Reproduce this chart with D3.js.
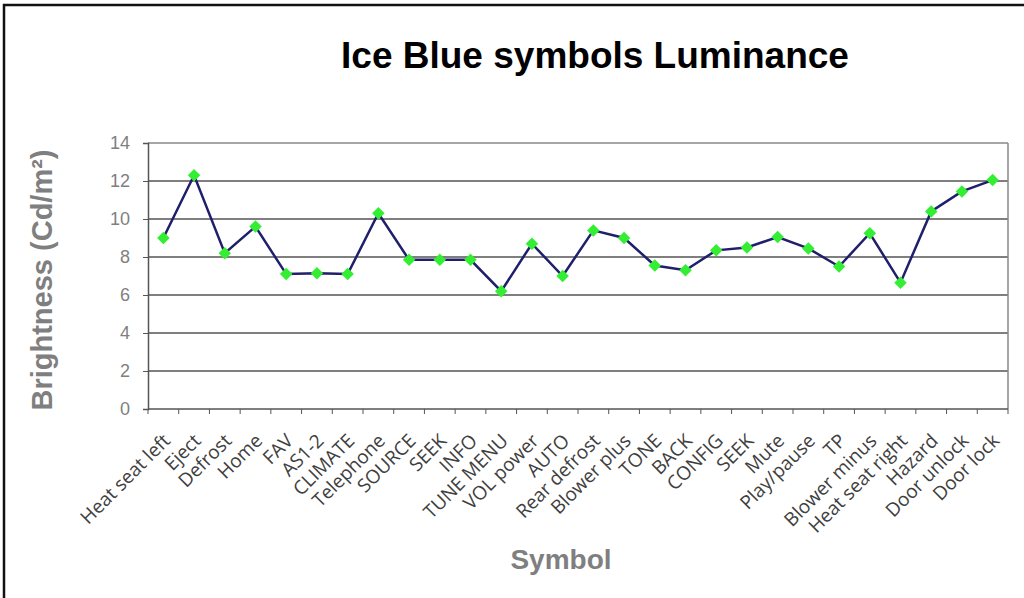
<!DOCTYPE html>
<html><head><meta charset="utf-8">
<script src="https://cdn.jsdelivr.net/npm/d3@7"></script>
<style>html,body{margin:0;padding:0;background:#fff;}svg{display:block;}</style>
</head><body>
<svg id="chart" width="1024" height="598"></svg>
<script>
const categories = ["Heat seat left","Eject","Defrost","Home","FAV","AS1-2","CLIMATE","Telephone","SOURCE","SEEK","INFO","TUNE MENU","VOL power","AUTO","Rear defrost","Blower plus","TONE","BACK","CONFIG","SEEK","Mute","Play/pause","TP","Blower minus","Heat seat right","Hazard","Door unlock","Door lock"];
const values = [9.0,12.3,8.2,9.6,7.1,7.15,7.1,10.3,7.85,7.85,7.85,6.2,8.7,7.0,9.4,9.0,7.55,7.3,8.35,8.5,9.05,8.45,7.5,9.25,6.65,10.4,11.45,12.05];
const yTicks = [0,2,4,6,8,10,12,14];
const title = "Ice Blue symbols Luminance";
const yTitle = "Brightness (Cd/m²)";
const xTitle = "Symbol";

const svg = d3.select("#chart");
const L = 148, R = 1008, T = 143, B = 409;
const idx = categories.map((d,i)=>i);
const x = d3.scaleBand().domain(idx).range([L,R]);
const y = d3.scaleLinear().domain([0,14]).range([B,T]);
const cx = i => x(i) + x.bandwidth()/2;

// outer frame
svg.append("rect").attr("x",4).attr("y",5).attr("width",1030).attr("height",610)
  .attr("fill","none").attr("stroke","#111").attr("stroke-width",2.5);

// title
svg.append("text").attr("x",595).attr("y",68).attr("text-anchor","middle")
  .attr("font-family","Liberation Sans, Arial, sans-serif").attr("font-weight","bold")
  .attr("font-size",37).attr("fill","#000").text(title);

// gridlines
svg.append("g").selectAll("line").data(yTicks.filter(d=>d>0&&d<14)).join("line")
  .attr("x1",L).attr("x2",R).attr("y1",d=>y(d)).attr("y2",d=>y(d))
  .attr("stroke","#000").attr("stroke-width",1.2);
// plot border top & right
svg.append("line").attr("x1",L).attr("x2",R).attr("y1",T).attr("y2",T).attr("stroke","#888").attr("stroke-width",1.5);
svg.append("line").attr("x1",R).attr("x2",R).attr("y1",T).attr("y2",B).attr("stroke","#888").attr("stroke-width",1.5);

// y axis
const yAxis = svg.append("g").attr("transform",`translate(${L},0)`)
  .call(d3.axisLeft(y).tickValues(yTicks).tickSize(5).tickPadding(13).tickFormat(d3.format("d")));
yAxis.select(".domain").attr("stroke","#555").attr("stroke-width",1.5);
yAxis.selectAll(".tick line").attr("stroke","#555");
yAxis.selectAll("text").attr("font-family","Liberation Sans, Arial, sans-serif").attr("font-size",18).attr("fill","#7f7f7f");

// x axis with ticks at boundaries
const xAxisG = svg.append("g").attr("transform",`translate(0,${B})`);
xAxisG.append("line").attr("x1",L).attr("x2",R).attr("y1",0).attr("y2",0).attr("stroke","#555").attr("stroke-width",1.5);
const bounds = d3.range(categories.length+1).map(i=> i<categories.length ? x(i) : x(categories.length-1)+x.bandwidth());
xAxisG.selectAll("line.t").data(bounds).join("line").attr("class","t")
  .attr("x1",d=>d).attr("x2",d=>d).attr("y1",0).attr("y2",5).attr("stroke","#555");
xAxisG.selectAll("text").data(categories).join("text")
  .attr("transform",(d,i)=>`translate(${cx(i)+8},33) rotate(-45)`)
  .attr("text-anchor","end").attr("font-family","Open Sans, Liberation Sans, sans-serif")
  .attr("font-size",19).attr("fill","#404040").text(d=>d);

// axis titles
svg.append("text").attr("transform",`translate(52,280) rotate(-90)`).attr("text-anchor","middle")
  .attr("font-family","Liberation Sans, Arial, sans-serif").attr("font-weight","bold")
  .attr("font-size",29).attr("fill","#7f7f7f").text(yTitle);
svg.append("text").attr("x",561).attr("y",569).attr("text-anchor","middle")
  .attr("font-family","Liberation Sans, Arial, sans-serif").attr("font-weight","bold")
  .attr("font-size",28).attr("fill","#7f7f7f").text(xTitle);

// line
const line = d3.line().x((d,i)=>cx(i)).y(d=>y(d));
svg.append("path").datum(values).attr("d",line).attr("fill","none")
  .attr("stroke","#1f1f6b").attr("stroke-width",2.5);
// markers
svg.append("g").selectAll("path").data(values).join("path")
  .attr("transform",(d,i)=>`translate(${cx(i)},${y(d)})`)
  .attr("d",d3.symbol().type(d3.symbolDiamond2).size(100))
  .attr("fill","#33ee33");
</script>
</body></html>
